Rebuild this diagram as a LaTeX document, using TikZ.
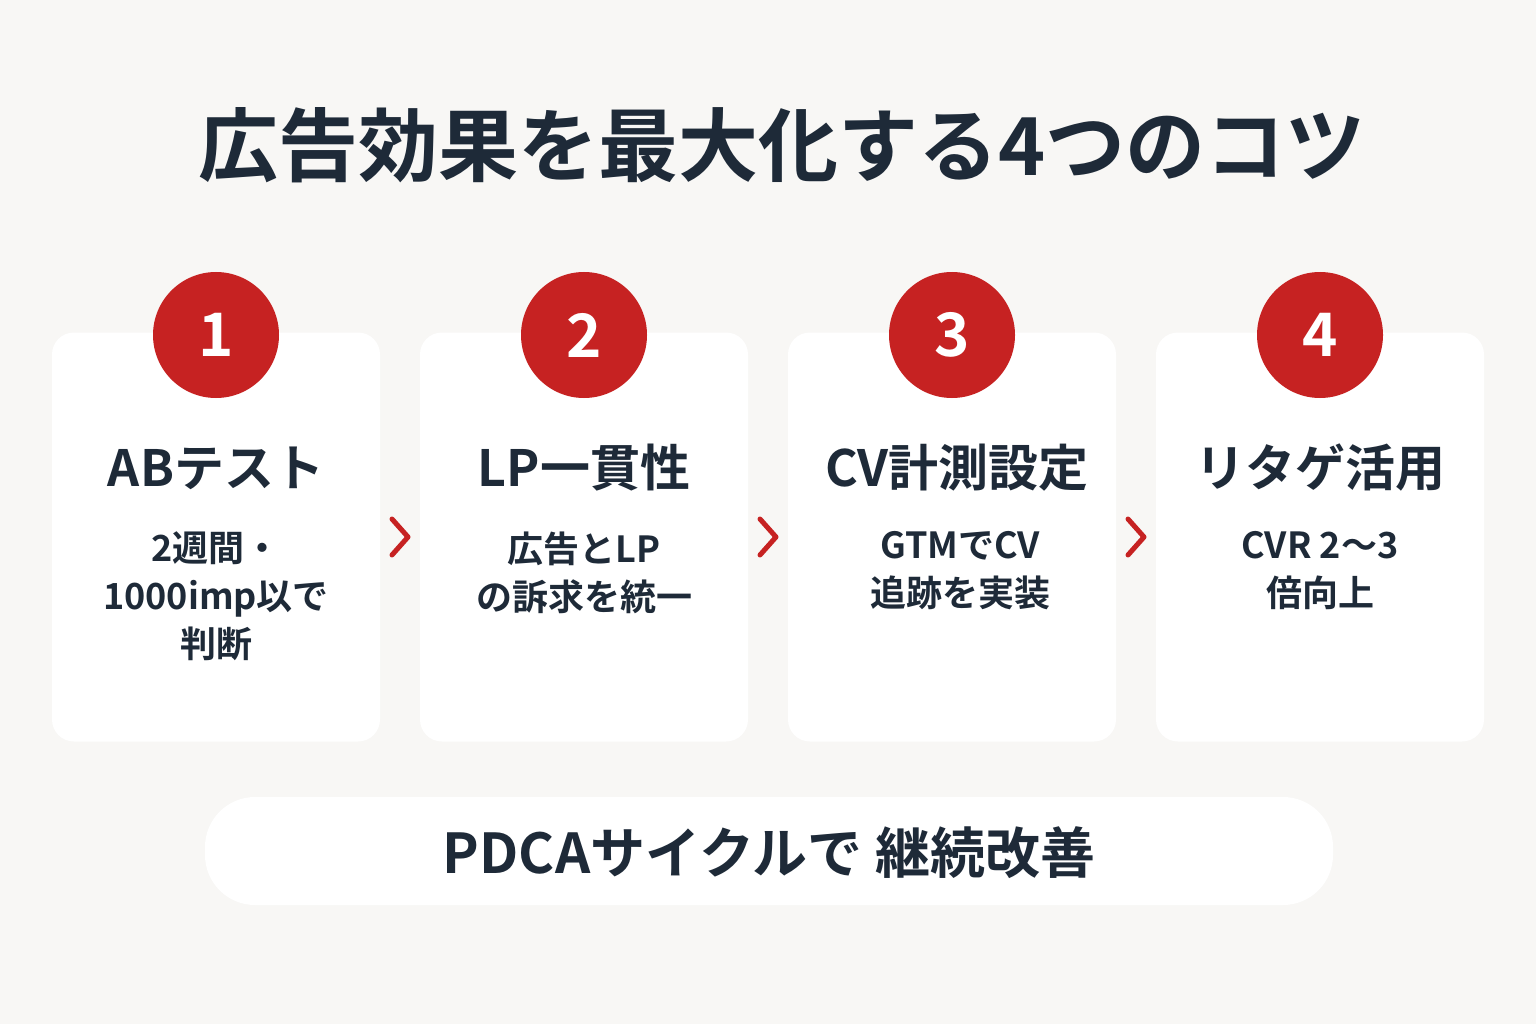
\documentclass[tikz,border=0pt]{standalone}
\usepackage{fontspec}
\setmainfont{Noto Sans CJK JP}[BoldFont={Noto Sans CJK JP Bold}]
\definecolor{bgcol}{HTML}{F8F7F5}
\definecolor{ink}{HTML}{1E2A38}
\definecolor{redc}{HTML}{C62222}
\tikzset{
	card/.style={fill=white, rounded corners=22pt, minimum width=328pt, minimum height=409pt, inner sep=0pt},
	num/.style={circle, fill=redc, minimum size=126pt, inner sep=0pt, text=white, font=\fontsize{60}{60}\selectfont\bfseries},
	head/.style={text=ink, font=\fontsize{50}{54}\selectfont\bfseries},
	body/.style={text=ink, align=center, font=\fontsize{36}{48}\selectfont\bfseries},
	chev/.style={draw=redc, line width=5pt, line cap=round, line join=round}
}
\begin{document}
\begin{tikzpicture}[x=1pt,y=-1pt]
	\fill[bgcol] (0,0) rectangle (1536,1024);
	\useasboundingbox (0,0) rectangle (1536,1024);
	\node[text=ink, font=\fontsize{80}{84}\selectfont\bfseries] (title) at (782,145) {広告効果を最大化する4つのコツ};

	% cards
	\foreach \i/\x in {1/216, 2/584, 3/952, 4/1320} {
		\node[card] (card\i) at (\x,537) {};
		\node[num] (num\i) at (\x,335) {\i};
	}
	\node[head] (head1) at (216,468) {ABテスト};
	\node[head] (head2) at (584,468) {LP一貫性};
	\node[head] (head3) at (957,468) {CV計測設定};
	\node[head] (head4) at (1320,468) {リタゲ活用};
	\node[body, anchor=north] (body1) at (216,528) {2週間・\\1000imp以で\\判断};
	\node[body, anchor=north] (body2) at (584,528) {広告とLP\\の訴求を統一};
	\node[body, anchor=north] (body3) at (960,528) {GTMでCV\\追跡を実装};
	\node[body, anchor=north] (body4) at (1320,528) {CVR 2〜3\\倍向上};

	% chevrons
	\foreach \x in {400, 768, 1136} {
		\coordinate (c\x) at (\x,537);
		\draw[chev] ([shift={(-8,-18)}]c\x) -- ([shift={(8,0)}]c\x) -- ([shift={(-8,18)}]c\x);
	}

	% bottom
	\node[fill=white, rounded corners=50pt, minimum width=1128pt, minimum height=108pt] (pill) at (769,851) {};
	\node[text=ink, font=\fontsize{55}{60}\selectfont\bfseries] (cycle) at (769,853) {PDCAサイクルで 継続改善};
\end{tikzpicture}
\end{document}
